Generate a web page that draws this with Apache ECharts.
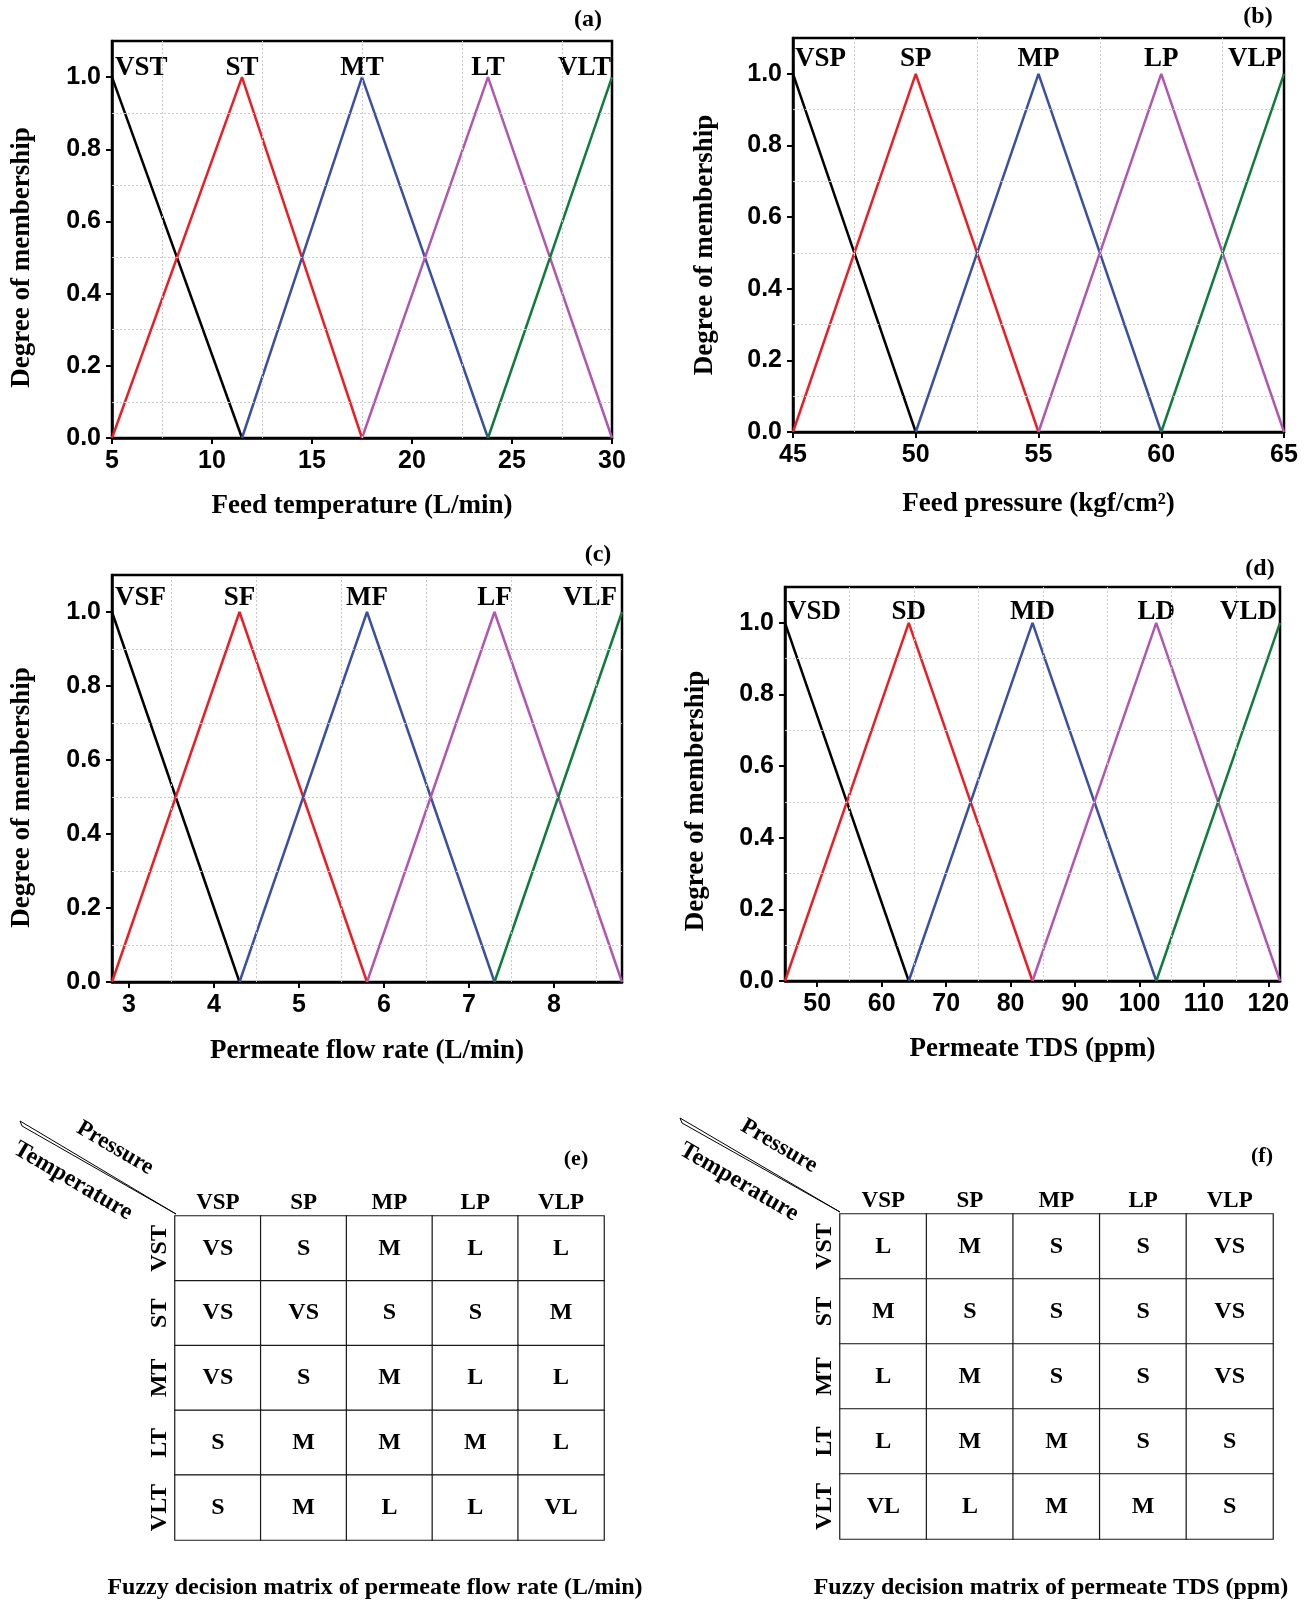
<!DOCTYPE html>
<html><head><meta charset="utf-8">
<script src="https://cdn.jsdelivr.net/npm/echarts@6/dist/echarts.min.js"></script>
<style>html,body{margin:0;padding:0;background:#fff}#c{width:1309px;height:1603px}</style>
</head><body><div id="c"></div><script>
// ---------------- data ----------------
const tempSets = ['VST', 'ST', 'MT', 'LT', 'VLT'];
const tempBreaks = [5, 11.5, 17.5, 23.8, 30];
const tempTicks = [5, 10, 15, 20, 25, 30];
const tempGridX = [7.5, 12.5, 17.5, 22.5, 27.5];

const pressSets = ['VSP', 'SP', 'MP', 'LP', 'VLP'];
const pressBreaks = [45, 50, 55, 60, 65];
const pressTicks = [45, 50, 55, 60, 65];
const pressGridX = [47.5, 52.5, 57.5, 62.5];

const flowSets = ['VSF', 'SF', 'MF', 'LF', 'VLF'];
const flowBreaks = [2.8, 4.3, 5.8, 7.3, 8.8];
const flowTicks = [3, 4, 5, 6, 7, 8];
const flowGridX = [3.5, 4.5, 5.5, 6.5, 7.5, 8.5];

const tdsSets = ['VSD', 'SD', 'MD', 'LD', 'VLD'];
const tdsBreaks = [45, 64.2, 83.4, 102.6, 121.8];
const tdsTicks = [50, 60, 70, 80, 90, 100, 110, 120];
const tdsGridX = [55, 65, 75, 85, 95, 105, 115];

const degreeTicks = [0, 0.2, 0.4, 0.6, 0.8, 1.0];
const degreeGridY = [0.1, 0.3, 0.5, 0.7, 0.9];
const peakDegree = 1;
const footDegree = 0;

const matrixCols = ['VSP', 'SP', 'MP', 'LP', 'VLP'];
const matrixRows = ['VST', 'ST', 'MT', 'LT', 'VLT'];
const flowMatrix = [
  ['VS', 'S', 'M', 'L', 'L'],
  ['VS', 'VS', 'S', 'S', 'M'],
  ['VS', 'S', 'M', 'L', 'L'],
  ['S', 'M', 'M', 'M', 'L'],
  ['S', 'M', 'L', 'L', 'VL']
];
const tdsMatrix = [
  ['L', 'M', 'S', 'S', 'VS'],
  ['M', 'S', 'S', 'S', 'VS'],
  ['L', 'M', 'S', 'S', 'VS'],
  ['L', 'M', 'M', 'S', 'S'],
  ['VL', 'L', 'M', 'M', 'S']
];

// ---------------- style ----------------
const SERIF = '"Liberation Serif", "Times New Roman", serif';
const SANS = '"Liberation Sans", Arial, sans-serif';
const lineColors = ['#000000', '#ee1d23', '#3c50a2', '#b257b1', '#0f7b3c'];

const panels = [
  { sets: tempSets, breaks: tempBreaks, ticks: tempTicks, gridX: tempGridX, name: 'Feed temperature (L/min)',
    grid: { left: 112, top: 41, width: 500, height: 397 }, yShift: 18, yGap: 76, xGap: 55, labelDist: -4, endOff: [3, -1] },
  { sets: pressSets, breaks: pressBreaks, ticks: pressTicks, gridX: pressGridX, name: 'Feed pressure (kgf/cm\u00B2)',
    grid: { left: 793, top: 38, width: 491, height: 394 }, yShift: 10, yGap: 74, xGap: 59, labelDist: 1, endOff: [2, -2] },
  { sets: flowSets, breaks: flowBreaks, ticks: flowTicks, gridX: flowGridX, name: 'Permeate flow rate (L/min)',
    grid: { left: 112, top: 575, width: 510, height: 407 }, yShift: 19, yGap: 76, xGap: 56, labelDist: 0, endOff: [3, -5] },
  { sets: tdsSets, breaks: tdsBreaks, ticks: tdsTicks, gridX: tdsGridX, name: 'Permeate TDS (ppm)',
    grid: { left: 785, top: 587, width: 495, height: 394 }, yShift: 17, yGap: 75, xGap: 55, labelDist: -3, endOff: [2, -3] }
];

const grids = [], xAxes = [], yAxes = [], series = [];

panels.forEach((p, gi) => {
  grids.push(Object.assign({ show: true, borderColor: '#000', borderWidth: 2.5, backgroundColor: 'transparent' }, p.grid));
  xAxes.push({
    type: 'value', gridIndex: gi, min: p.breaks[0], max: p.breaks[p.breaks.length - 1],
    name: p.name, nameLocation: 'middle', nameGap: p.xGap,
    nameTextStyle: { fontFamily: SERIF, fontWeight: 'bold', fontSize: 27, color: '#000' },
    axisLine: { show: true, onZero: false, lineStyle: { color: '#000', width: 2.5 } },
    axisTick: { show: true, customValues: p.ticks, length: 6, lineStyle: { color: '#000', width: 2 } },
    axisLabel: { customValues: p.ticks, margin: 11, fontFamily: SANS, fontWeight: 'bold', fontSize: 25, color: '#000' },
    splitLine: { show: false }
  });
  yAxes.push({
    type: 'value', gridIndex: gi, min: 0, max: 1.1,
    name: 'Degree of membership', nameLocation: 'middle', nameGap: p.yGap,
    nameTextStyle: { fontFamily: SERIF, fontWeight: 'bold', fontSize: 27, color: '#000', padding: [0, p.yShift * 2, 0, 0] },
    axisLine: { show: true, onZero: false, lineStyle: { color: '#000', width: 2.5 } },
    axisTick: { show: true, customValues: degreeTicks, length: 6, lineStyle: { color: '#000', width: 2 } },
    axisLabel: { customValues: degreeTicks, margin: 11, fontFamily: SANS, fontWeight: 'bold', fontSize: 25, color: '#000',
      formatter: v => v.toFixed(1) },
    splitLine: { show: false }
  });
  // dotted grid lines at half-tick positions
  series.push({
    type: 'line', xAxisIndex: gi, yAxisIndex: gi, data: [], silent: true, z: 1,
    markLine: {
      silent: true, symbol: ['none', 'none'], animation: false, label: { show: false },
      lineStyle: { type: [2, 2], color: '#c8c8c8', width: 1 },
      data: p.gridX.map(v => ({ xAxis: v })).concat(degreeGridY.map(v => ({ yAxis: v })))
    }
  });
  const n = p.sets.length;
  p.sets.forEach((name, i) => {
    const pts = [];
    if (i > 0) pts.push([p.breaks[i - 1], footDegree]);
    pts.push({
      value: [p.breaks[i], peakDegree],
      label: {
        show: true, position: 'top', distance: p.labelDist,
        align: i === 0 ? 'left' : (i === n - 1 ? 'right' : 'center'),
        offset: i === 0 ? [p.endOff[0], 0] : (i === n - 1 ? [p.endOff[1], 0] : [0, 0]),
        formatter: name, fontFamily: SERIF, fontWeight: 'bold', fontSize: 27, color: '#000'
      }
    });
    if (i < n - 1) pts.push([p.breaks[i + 1], footDegree]);
    series.push({
      type: 'line', name, xAxisIndex: gi, yAxisIndex: gi, data: pts,
      symbol: 'circle', symbolSize: 0, showSymbol: true, silent: true, z: 3,
      lineStyle: { color: lineColors[i], width: 2.5 }, itemStyle: { color: lineColors[i] },
      label: { show: false }, emphasis: { disabled: true }
    });
  });
});

// ---------------- decision matrices ----------------
const tables = [
  { matrix: flowMatrix, grid: { left: 175, top: 1216, width: 429, height: 324 } },
  { matrix: tdsMatrix, grid: { left: 840, top: 1214, width: 433, height: 325 } }
];
const heatIdx = [];
tables.forEach((t, k) => {
  const gi = grids.length;
  grids.push(Object.assign({ show: false }, t.grid));
  xAxes.push({
    type: 'category', gridIndex: gi, position: 'top', data: matrixCols,
    axisLine: { show: false }, axisTick: { show: false }, splitLine: { show: false },
    axisLabel: { margin: 1, fontFamily: SERIF, fontWeight: 'bold', fontSize: 23, color: '#000' }
  });
  yAxes.push({
    type: 'category', gridIndex: gi, inverse: true, data: matrixRows,
    axisLine: { show: false }, axisTick: { show: false }, splitLine: { show: false },
    axisLabel: { rotate: 90, margin: 3, fontFamily: SERIF, fontWeight: 'bold', fontSize: 24, color: '#000' }
  });
  const data = [];
  t.matrix.forEach((row, r) => row.forEach((v, c) => data.push([c, r, 1])));
  heatIdx.push(series.length);
  series.push({
    type: 'heatmap', xAxisIndex: gi, yAxisIndex: gi, data, silent: true,
    itemStyle: { color: '#ffffff', borderColor: '#1a1a1a', borderWidth: 1.2 },
    label: { show: true, fontFamily: SERIF, fontWeight: 'bold', fontSize: 24, color: '#000',
      formatter: prm => t.matrix[prm.value[1]][prm.value[0]] },
    emphasis: { disabled: true }
  });
});

// ---------------- decorations (layout only) ----------------
function txt(x, y, text, size, extra) {
  return Object.assign({ type: 'text', x, y, silent: true,
    style: { text, fill: '#000', font: 'bold ' + size + 'px ' + SERIF, textAlign: 'center', textVerticalAlign: 'middle' } }, extra || {});
}
const ang = -Math.atan2(92, 157);
function diag(x0, y0, x1, y1) {
  return { type: 'polygon', silent: true,
    shape: { points: [[x0, y0], [x1, y1], [x0 + 2, y0 + 5]] },
    style: { fill: '#fff', stroke: '#000', lineWidth: 1 } };
}
const graphic = [
  txt(588, 20, '(a)', 24), txt(1258, 17, '(b)', 24), txt(598, 555, '(c)', 24), txt(1260, 569, '(d)', 24),
  txt(576, 1159, '(e)', 22), txt(1262, 1156, '(f)', 22),
  txt(375, 1588, 'Fuzzy decision matrix of permeate flow rate (L/min)', 24),
  txt(1051, 1588, 'Fuzzy decision matrix of permeate TDS (ppm)', 24),
  diag(20, 1121, 176, 1214), diag(680, 1118, 840, 1212),
  Object.assign(txt(0, 0, 'Pressure', 23), { x: 115, y: 1148, rotation: ang }),
  Object.assign(txt(0, 0, 'Temperature', 24), { x: 73, y: 1181, rotation: ang }),
  Object.assign(txt(0, 0, 'Pressure', 23), { x: 779, y: 1146, rotation: ang }),
  Object.assign(txt(0, 0, 'Temperature', 24), { x: 739, y: 1182, rotation: ang })
];

const chart = echarts.init(document.getElementById('c'), null, { renderer: 'canvas' });
chart.setOption({
  animation: false,
  backgroundColor: '#ffffff',
  grid: grids, xAxis: xAxes, yAxis: yAxes, series,
  visualMap: { show: false, seriesIndex: heatIdx, min: 0, max: 1, inRange: { color: ['#ffffff', '#ffffff'] } },
  graphic
});
</script></body></html>
